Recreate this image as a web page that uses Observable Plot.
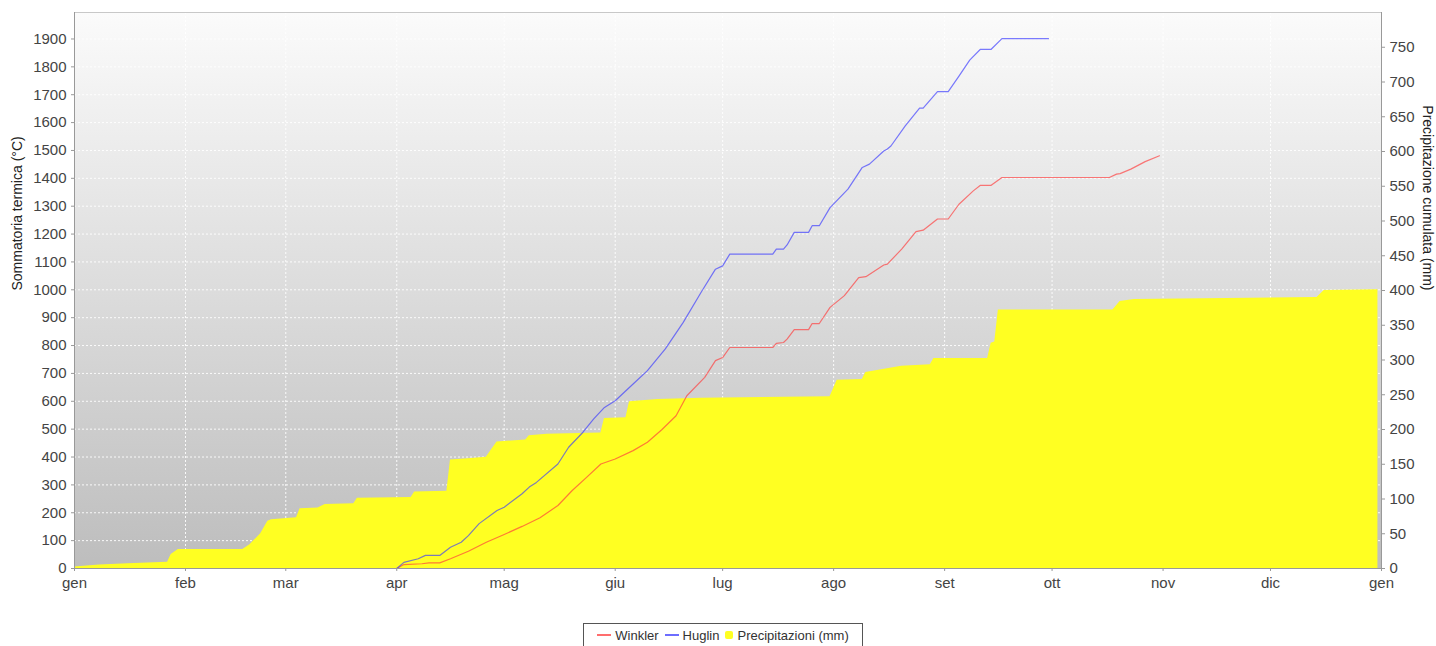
<!DOCTYPE html>
<html>
<head>
<meta charset="utf-8">
<script src="https://cdn.jsdelivr.net/npm/d3@7"></script>
<script src="https://cdn.jsdelivr.net/npm/@observablehq/plot@0.6"></script>
<style>
  html, body { margin: 0; padding: 0; background: #fff; }
  #wrap { position: relative; width: 1436px; height: 646px; overflow: hidden; font-family: "Liberation Sans", Arial, sans-serif; }
  #legend { position: absolute; left: 583px; top: 623px; width: 280px; height: 24px; border: 1px solid #555; box-sizing: border-box;
            display: flex; align-items: center; justify-content: center; font-size: 13px; color: #333; background: #fff; white-space: nowrap; }
  #legend .item { display: flex; align-items: center; margin: 0 3px; }
  #legend .line { display: inline-block; width: 14px; height: 1.5px; margin-right: 4px; }
  #legend .sq { display: inline-block; width: 8px; height: 8px; border-radius: 2px; margin-right: 4px; }
</style>
</head>
<body>
<div id="wrap"><div id="chart"></div><div id="legend"></div></div>
<script>
// ---- data (year without leap day) ----
const year = 2023;

const rainDates = ["01-01","01-08","01-16","01-27","01-28","01-30","02-17","02-19","02-22","02-24","02-25",
  "03-04","03-05","03-10","03-12","03-20","03-21","04-05","04-06","04-15","04-16","04-21","04-26","04-29",
  "05-07","05-08","05-13","05-28","05-29","06-04","06-05","06-13","06-25","07-31","08-02","08-09","08-10",
  "08-20","08-28","08-29","09-13","09-14","09-15","09-16","10-18","10-20","10-24","12-14","12-16","12-31"];
const rainMm = [2,5,7,9,20,27.5,27.5,34,50,68,70,
  73,86,87,92,93,101,102,110,111,156,158,160,182,
  185,191,193,195,216,217,240,243,245,247,271,272,282,
  291,293,302,302,324,326,372,372,384,387,390,400,401];

const huglinDates = ["04-01","04-03","04-07","04-09","04-13","04-16","04-19","04-21","04-24","04-29",
  "05-01","05-06","05-08","05-10","05-16","05-19","05-23","05-26","05-29","06-01","06-06","06-10","06-15",
  "06-20","06-25","06-29","07-01","07-03","07-15","07-16","07-18","07-19","07-21","07-25","07-26","07-28",
  "07-31","08-05","08-09","08-11","08-15","08-16","08-17","08-21","08-25","08-26","08-30","09-02","09-05",
  "09-08","09-11","09-14","09-17","09-30"];
const huglinVal = [0,22,35,47,47,76,94,118,161,208,
  220,268,292,309,375,435,489,537,578,602,662,710,788,
  883,991,1074,1086,1128,1128,1146,1146,1161,1206,1206,1230,1230,
  1295,1361,1439,1451,1498,1505,1516,1588,1652,1652,1711,1711,1767,
  1824,1863,1863,1901,1901];

const winklerDates = ["04-01","04-03","04-08","04-10","04-13","04-16","04-21","04-26","05-01","05-06",
  "05-11","05-16","05-20","05-24","05-28","06-01","06-06","06-10","06-14","06-18","06-21","06-26","06-29",
  "07-01","07-03","07-15","07-16","07-18","07-19","07-21","07-25","07-26","07-28","07-31","08-04","08-08",
  "08-10","08-15","08-16","08-20","08-24","08-26","08-30","09-02","09-05","09-09","09-11","09-14","09-17",
  "10-17","10-19","10-20","10-23","10-27","10-31"];
const winklerVal = [0,14,17,20,20,35,62,94,122,151,
  182,226,280,327,375,393,423,453,498,548,620,686,746,
  757,793,793,808,811,823,857,857,879,879,937,979,1044,
  1047,1089,1092,1146,1209,1214,1254,1254,1307,1355,1375,1375,1403,
  1403,1415,1417,1433,1460,1481];

const monthLabels = ["gen","feb","mar","apr","mag","giu","lug","ago","set","ott","nov","dic"];
const leftTicks = [0,100,200,300,400,500,600,700,800,900,1000,1100,1200,1300,1400,1500,1600,1700,1800,1900];
const rightTicks = [0,50,100,150,200,250,300,350,400,450,500,550,600,650,700,750];

const leftMax = 1995;   // Sommatoria termica axis top
const rightMax = 800;   // Precipitazione axis top
const k = leftMax / rightMax;

const colors = {Winkler: "#ff3c3c", Huglin: "#3c3cff", Precipitazioni: "#ffff22"};

// ---- build tables ----
const toDate = s => new Date(`${year}-${s}T00:00:00Z`);
const rain = rainDates.map((d, i) => ({date: toDate(d), mm: rainMm[i]}));
const huglin = huglinDates.map((d, i) => ({date: toDate(d), v: huglinVal[i]}));
const winkler = winklerDates.map((d, i) => ({date: toDate(d), v: winklerVal[i]}));
const xStart = new Date(Date.UTC(year, 0, 1)), xEnd = new Date(Date.UTC(year + 1, 0, 1));
const monthTicks = d3.utcMonth.range(xStart, d3.utcDay.offset(xEnd, 1));

const axisColor = "#999";
const textColor = "#444";

const svg = Plot.plot({
  width: 1436, height: 612,
  marginLeft: 74, marginRight: 55, marginTop: 12, marginBottom: 44,
  style: {fontFamily: '"Liberation Sans", Arial, sans-serif', fontSize: "15px", color: textColor, background: "#fff", overflow: "visible"},
  x: {type: "utc", domain: [xStart, xEnd], axis: null},
  y: {domain: [0, leftMax], axis: null},
  marks: [
    Plot.frame({fill: "url(#bgGrad)", stroke: null}),
    Plot.gridY(leftTicks, {stroke: "#fff", strokeOpacity: 0.9, strokeDasharray: "2,2"}),
    Plot.gridX(monthTicks, {stroke: "#fff", strokeOpacity: 0.9, strokeDasharray: "2,2"}),
    Plot.areaY(rain, {x: "date", y: d => d.mm * k, fill: colors.Precipitazioni, curve: "linear"}),
    Plot.line(winkler, {x: "date", y: "v", stroke: colors.Winkler, strokeWidth: 1.2, strokeOpacity: 0.68}),
    Plot.line(huglin, {x: "date", y: "v", stroke: colors.Huglin, strokeWidth: 1.2, strokeOpacity: 0.68}),
    Plot.ruleY([leftMax], {stroke: "#c8c8c8"}),
    Plot.ruleY([0], {stroke: axisColor}),
    Plot.ruleX([xStart, xEnd], {stroke: axisColor}),
    Plot.axisY(leftTicks, {anchor: "left", tickSize: 3, tickPadding: 5, fontSize: 15, stroke: axisColor, fill: textColor, label: null,
      tickFormat: d => String(d)}),
    Plot.axisY(rightTicks.map(v => v * k), {anchor: "right", tickSize: 3, tickPadding: 5, fontSize: 15, stroke: axisColor, fill: textColor, label: null,
      tickFormat: d => String(Math.round(d / k))}),
    Plot.axisX(monthTicks, {anchor: "bottom", tickSize: 3, tickPadding: 6, fontSize: 15, stroke: axisColor, fill: textColor, label: null,
      tickFormat: d => monthLabels[d.getUTCMonth()]}),
    Plot.text(["Sommatoria termica (°C)"], {frameAnchor: "left", dx: -57, rotate: -90, fontSize: 14, fill: "#222"}),
    Plot.text(["Precipitazione cumulata (mm)"], {frameAnchor: "right", dx: 46, rotate: 90, fontSize: 14, fill: "#222"})
  ]
});

const defs = d3.select(svg).insert("defs", ":first-child");
const grad = defs.append("linearGradient").attr("id", "bgGrad").attr("x1", 0).attr("y1", 0).attr("x2", 0).attr("y2", 1);
grad.append("stop").attr("offset", "0%").attr("stop-color", "#fbfbfb");
grad.append("stop").attr("offset", "100%").attr("stop-color", "#bdbdbd");

document.getElementById("chart").appendChild(svg);

// legend
const legend = d3.select("#legend");
[["Winkler", "line"], ["Huglin", "line"], ["Precipitazioni (mm)", "sq"]].forEach(([name, kind]) => {
  const key = name.split(" ")[0];
  const it = legend.append("span").attr("class", "item");
  it.append("span").attr("class", kind).style("background-color", colors[key]).style("opacity", kind === "line" ? 0.75 : 1);
  it.append("span").text(name);
});
</script>
</body>
</html>
